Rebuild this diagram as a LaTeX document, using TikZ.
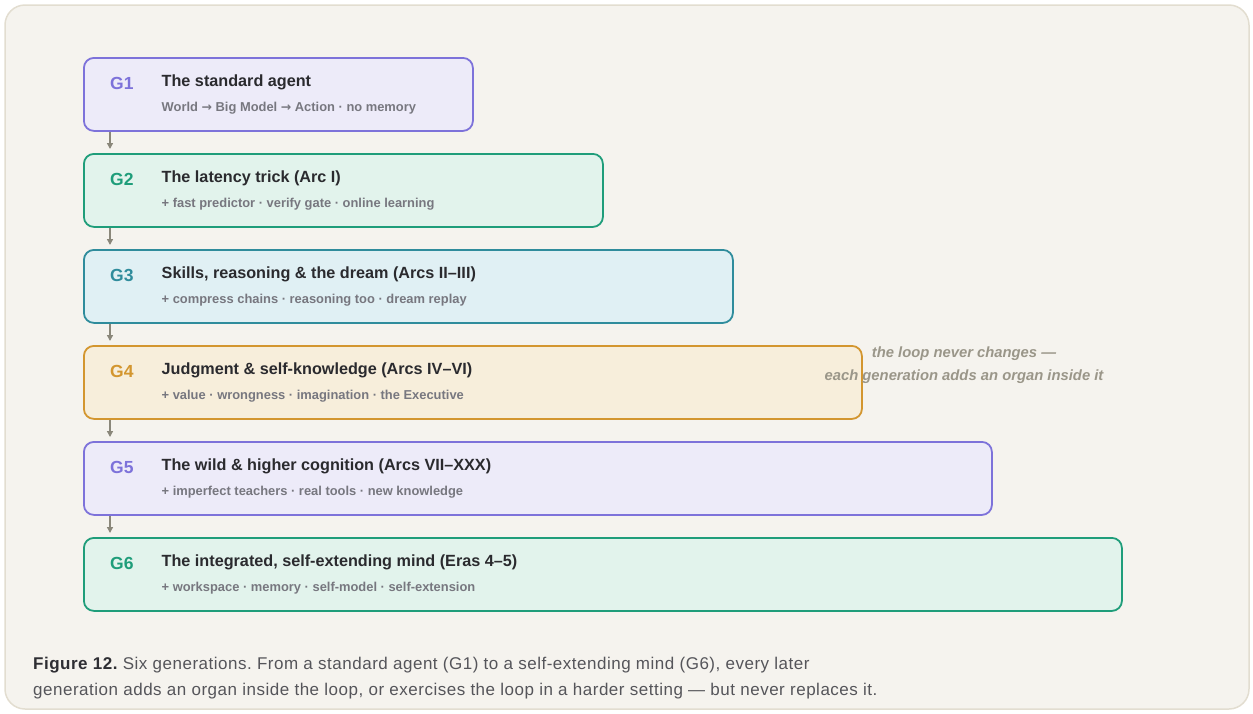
\documentclass[tikz,border=0pt]{standalone}
\usepackage{fontspec}
\setmainfont{Liberation Sans}
\newfontfamily\arrowfont{DejaVu Sans}
\usetikzlibrary{arrows.meta}
\definecolor{bgpage}{HTML}{F5F3EE}
\definecolor{bgframe}{HTML}{E2DDD0}
\definecolor{purpS}{HTML}{7D72DA}
\definecolor{purpF}{HTML}{EDEBF9}
\definecolor{greenS}{HTML}{1F9D7A}
\definecolor{greenF}{HTML}{E2F3EC}
\definecolor{tealS}{HTML}{2F8C9C}
\definecolor{tealF}{HTML}{E0F0F4}
\definecolor{goldS}{HTML}{D3962F}
\definecolor{goldF}{HTML}{F7EEDB}
\definecolor{titleC}{HTML}{2A2A2E}
\definecolor{subC}{HTML}{77777F}
\definecolor{arrC}{HTML}{8A877A}
\definecolor{noteC}{HTML}{9A9689}
\definecolor{capC}{HTML}{55555A}
\definecolor{capB}{HTML}{2E2E33}
\newcommand{\rarr}{{\arrowfont\fontsize{12.5}{14}\selectfont →}}
\tikzset{
  genbox/.style={draw, line width=1.8pt, rounded corners=10pt, minimum height=73pt, anchor=north west, inner sep=0pt},
  glabel/.style={anchor=base west, inner sep=0pt, font=\fontsize{17.5}{20}\selectfont\bfseries},
  gtitle/.style={anchor=base west, inner sep=0pt, text=titleC, font=\fontsize{16.2}{19}\selectfont\bfseries},
  gsub/.style={anchor=base west, inner sep=0pt, text=subC, font=\fontsize{12.9}{15}\selectfont\bfseries},
  arr/.style={draw=arrC, line width=1.3pt, -{Triangle[length=6pt,width=6pt]}},
  note/.style={inner sep=0pt, text=noteC, align=center, font=\fontsize{14.8}{23}\selectfont\bfseries\itshape},
  capt/.style={anchor=base west, inner sep=0pt, text=capC, font=\fontsize{17}{26}\selectfont\addfontfeature{LetterSpace=3}}
}
\begin{document}
\frenchspacing
\begin{tikzpicture}[x=1pt,y=-1pt]
\useasboundingbox (0,0) rectangle (1253,713);
\draw[draw=bgframe, fill=bgpage, line width=1.5pt, rounded corners=20pt] (5,5) rectangle (1249,709);

% boxes
\node[genbox, draw=purpS, fill=purpF, minimum width=389pt] (g1) at (83,57) {};
\node[genbox, draw=greenS, fill=greenF, minimum width=519pt] (g2) at (83,153) {};
\node[genbox, draw=tealS, fill=tealF, minimum width=649pt] (g3) at (83,249) {};
\node[genbox, draw=goldS, fill=goldF, minimum width=778pt] (g4) at (83,345) {};
\node[genbox, draw=purpS, fill=purpF, minimum width=908pt] (g5) at (83,441) {};
\node[genbox, draw=greenS, fill=greenF, minimum width=1038pt] (g6) at (83,537) {};

% labels
\node[glabel, text=purpS] (l1) at (110,89.5) {G1};
\node[gtitle] (t1) at (161.5,86.3) {The standard agent};
\node[gsub] (s1) at (161.5,111) {World \rarr{} Big Model \rarr{} Action · no memory};

\node[glabel, text=greenS] (l2) at (110,185.5) {G2};
\node[gtitle] (t2) at (161.5,182.3) {The latency trick (Arc I)};
\node[gsub] (s2) at (161.5,207) {+ fast predictor · verify gate · online learning};

\node[glabel, text=tealS] (l3) at (110,281.5) {G3};
\node[gtitle] (t3) at (161.5,278.3) {Skills, reasoning \& the dream (Arcs II–III)};
\node[gsub] (s3) at (161.5,303) {+ compress chains · reasoning too · dream replay};

\node[glabel, text=goldS] (l4) at (110,377.5) {G4};
\node[gtitle] (t4) at (161.5,374.3) {Judgment \& self-knowledge (Arcs IV–VI)};
\node[gsub] (s4) at (161.5,399) {+ value · wrongness · imagination · the Executive};

\node[glabel, text=purpS] (l5) at (110,473.5) {G5};
\node[gtitle] (t5) at (161.5,470.3) {The wild \& higher cognition (Arcs VII–XXX)};
\node[gsub] (s5) at (161.5,495) {+ imperfect teachers · real tools · new knowledge};

\node[glabel, text=greenS] (l6) at (110,569.5) {G6};
\node[gtitle] (t6) at (161.5,566.3) {The integrated, self-extending mind (Eras 4–5)};
\node[gsub] (s6) at (161.5,591) {+ workspace · memory · self-model · self-extension};

% arrows
\foreach \a/\b in {g1/g2,g2/g3,g3/g4,g4/g5,g5/g6}{
  \draw[arr] ([xshift=27pt]\a.south west) -- ([xshift=27pt,yshift=4pt]\b.north west);
}

% annotation
\node[note] (note) at (964,365) {the loop never changes —\\each generation adds an organ inside it};

% caption (base anchor = last line)
\node[capt, align=left, anchor=base west] (cap) at (33,695) {{\color{capB}\bfseries Figure 12.} Six generations. From a standard agent (G1) to a self-extending mind (G6), every later\\generation adds an organ inside the loop, or exercises the loop in a harder setting — but never replaces it.};
\end{tikzpicture}
\end{document}
